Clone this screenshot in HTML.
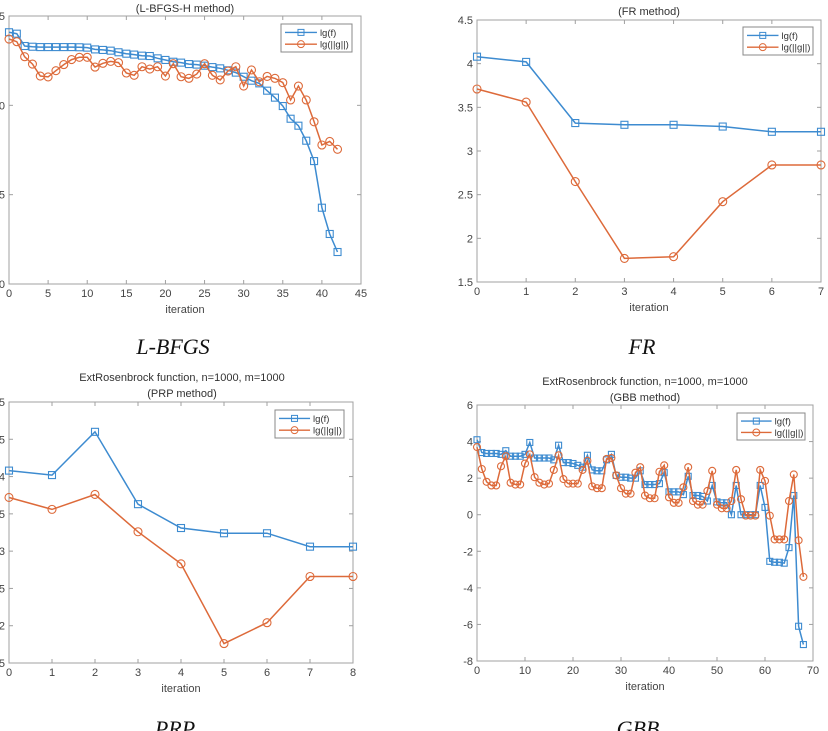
<!DOCTYPE html>
<html><head><meta charset="utf-8"><style>
html,body{margin:0;padding:0;background:#fff;overflow:hidden}
svg{display:block}
text{font-family:"Liberation Sans",sans-serif}
.cap{font-family:"Liberation Serif",serif;font-style:italic;font-size:22px;fill:#111}
</style></head><body>
<svg id="fig" width="828" height="731" viewBox="0 0 828 731" xmlns="http://www.w3.org/2000/svg">
<text class="cap" x="173" y="354" text-anchor="middle">L-BFGS</text>
<text class="cap" x="642" y="354" text-anchor="middle">FR</text>
<text class="cap" x="175" y="736" text-anchor="middle">PRP</text>
<text class="cap" x="638" y="736" text-anchor="middle">GBB</text>
</svg>
<script>
// ---- data ----
const lbfgsF = [4.409,4.401,4.332,4.328,4.326,4.326,4.326,4.326,4.326,4.325,4.323,4.313,4.310,4.306,4.297,4.289,4.284,4.278,4.276,4.263,4.254,4.244,4.239,4.231,4.228,4.222,4.214,4.207,4.196,4.183,4.160,4.138,4.123,4.082,4.043,3.996,3.925,3.886,3.802,3.688,3.427,3.280,3.179];
const lbfgsG = [4.371,4.356,4.272,4.231,4.164,4.159,4.194,4.228,4.256,4.269,4.269,4.214,4.235,4.246,4.239,4.181,4.168,4.216,4.203,4.216,4.164,4.233,4.160,4.151,4.175,4.233,4.168,4.142,4.192,4.216,4.108,4.198,4.132,4.162,4.151,4.127,4.030,4.108,4.030,3.908,3.778,3.798,3.754];
const lbfgsYTicks = ["3.0","3.5","4.0","4.5"];
const lbfgsXTicks = [0,5,10,15,20,25,30,35,40,45];
const frF = [4.08,4.02,3.32,3.30,3.30,3.28,3.22,3.22];
const frG = [3.71,3.56,2.65,1.77,1.79,2.42,2.84,2.84];
const frYTicks = ["1.5","2","2.5","3","3.5","4","4.5"];
const frXTicks = [0,1,2,3,4,5,6,7];
const prpF = [4.08,4.02,4.60,3.63,3.31,3.24,3.24,3.06,3.06];
const prpG = [3.72,3.56,3.76,3.26,2.83,1.76,2.04,2.66,2.66];
const prpYTicks = ["1.5","2","2.5","3","3.5","4","4.5","5"];
const prpXTicks = [0,1,2,3,4,5,6,7,8];
const gbbF = [4.1,3.4,3.35,3.35,3.35,3.3,3.5,3.2,3.2,3.2,3.3,3.95,3.1,3.1,3.1,3.1,3.0,3.8,2.85,2.85,2.8,2.7,2.6,3.25,2.45,2.4,2.4,3.0,3.3,2.15,2.05,2.05,2.0,2.0,2.4,1.65,1.65,1.65,1.7,2.3,1.25,1.25,1.25,1.1,2.1,1.05,1.05,1.0,0.75,1.6,0.7,0.65,0.65,0.0,1.6,0.0,0.0,0.0,0.0,1.6,0.4,-2.55,-2.6,-2.6,-2.65,-1.8,1.05,-6.1,-7.1];
const gbbG = [3.7,2.5,1.8,1.6,1.6,2.65,3.2,1.75,1.65,1.65,2.8,3.3,2.05,1.75,1.65,1.7,2.45,3.25,1.95,1.7,1.7,1.7,2.45,2.95,1.55,1.45,1.45,3.05,3.1,2.15,1.45,1.15,1.15,2.3,2.6,1.05,0.9,0.9,2.35,2.7,0.95,0.65,0.65,1.5,2.6,0.75,0.55,0.55,1.3,2.4,0.55,0.35,0.35,0.75,2.45,0.85,-0.05,-0.05,-0.05,2.45,1.85,-0.05,-1.35,-1.35,-1.35,0.75,2.2,-1.4,-3.4];
const gbbYTicks = ["-8","-6","-4","-2","0","2","4","6"];
const gbbXTicks = [0,10,20,30,40,50,60,70];

const NS="http://www.w3.org/2000/svg";
const svg=document.getElementById('fig');
const BLUE="#3d8bd0", ORANGE="#dd6a3a";
function mk(tag,attrs,parent){const e=document.createElementNS(NS,tag);for(const k in attrs)e.setAttribute(k,attrs[k]);(parent||svg).appendChild(e);return e;}

function chart(o){
  const g=mk('g',{});
  
  
  const x=v=>o.x0+(v-o.xmin)/(o.xmax-o.xmin)*(o.x1-o.x0);
  const y=v=>o.y1-(v-o.ymin)/(o.ymax-o.ymin)*(o.y1-o.y0);
  const box=mk('rect',{x:o.x0,y:o.y0,width:o.x1-o.x0,height:o.y1-o.y0,fill:'#fff',stroke:'#a0a0a0','stroke-width':1},g);
  
  
  o.xt.forEach(t=>{const px=x(t);
    mk('line',{x1:px,x2:px,y1:o.y1,y2:o.y1-4,stroke:'#a0a0a0'},g);
    mk('line',{x1:px,x2:px,y1:o.y0,y2:o.y0+4,stroke:'#a0a0a0'},g);
    const tx=mk('text',{x:px,y:o.y1+13,'text-anchor':'middle','font-size':11,fill:'#444'},g);tx.textContent=t;
    
    
  });
  o.yt.forEach(t=>{const py=y(parseFloat(t));
    mk('line',{x1:o.x0,x2:o.x0+4,y1:py,y2:py,stroke:'#a0a0a0'},g);
    mk('line',{x1:o.x1,x2:o.x1-4,y1:py,y2:py,stroke:'#a0a0a0'},g);
    const tx=mk('text',{x:o.x0-4,y:py+4,'text-anchor':'end','font-size':11,fill:'#444'},g);tx.textContent=t;
    
    
  });
  const xl=mk('text',{x:(o.x0+o.x1)/2,y:o.y1+29,'text-anchor':'middle','font-size':11,fill:'#444'},g);xl.textContent='iteration';
  
  
  o.titles.forEach((t,i)=>{const tt=mk('text',{x:o.tx,y:o.ty+i*16,'text-anchor':'middle','font-size':11,fill:'#333'},g);tt.textContent=t;
    
    });
  const ms=o.ms||3.5;
  [[o.f,BLUE,'sq','series-lg-f'],[o.g,ORANGE,'ci','series-lg-g']].forEach(([d,c,m,nm])=>{
    const pts=d.map((v,i)=>x(i).toFixed(1)+','+y(v).toFixed(1)).join(' ');
    const s=mk('polyline',{points:pts,fill:'none',stroke:c,'stroke-width':1.5},g);
    
    
    d.forEach((v,i)=>{
      const p= m==='sq'? mk('rect',{x:x(i)-ms,y:y(v)-ms,width:2*ms,height:2*ms,fill:'none',stroke:c,'stroke-width':1.1},g)
                       : mk('circle',{cx:x(i),cy:y(v),r:ms+0.5,fill:'none',stroke:c,'stroke-width':1.1},g);
      
      
    });
  });
  const L=o.leg;
  const lg=mk('g',{},g);
  
  
  mk('rect',{x:L[0],y:L[1],width:L[2],height:L[3],fill:'#fff',stroke:'#888'},lg);
  [[BLUE,'sq','lg(f)'],[ORANGE,'ci','lg(||g||)']].forEach(([c,m,t],i)=>{
    const cy=L[1]+L[3]*(0.3+i*0.42);
    const lx=L[0]+4, lw=L[2]*0.45;
    mk('line',{x1:lx,x2:lx+lw,y1:cy,y2:cy,stroke:c,'stroke-width':1.4},lg);
    if(m==='sq')mk('rect',{x:lx+lw/2-3,y:cy-3,width:6,height:6,fill:'none',stroke:c},lg);
    else mk('circle',{cx:lx+lw/2,cy:cy,r:3.5,fill:'none',stroke:c},lg);
    const tt=mk('text',{x:lx+lw+3,y:cy+3.5,'font-size':9.5,fill:'#333'},lg);tt.textContent=t;
    
    
  });
}
chart({name:'lbfgs-chart',x0:9,x1:361,y0:16,y1:284,xmin:0,xmax:45,ymin:3,ymax:4.5,xt:lbfgsXTicks,yt:lbfgsYTicks,f:lbfgsF,g:lbfgsG,titles:['(L-BFGS-H method)'],tx:185,ty:12,leg:[281,24,71,28]});
chart({name:'fr-chart',x0:477,x1:821,y0:20,y1:282,xmin:0,xmax:7,ymin:1.5,ymax:4.5,xt:frXTicks,yt:frYTicks,f:frF,g:frG,titles:['(FR method)'],tx:649,ty:15,leg:[743,27,70,28]});
chart({name:'prp-chart',x0:9,x1:353,y0:402,y1:663,xmin:0,xmax:8,ymin:1.5,ymax:5,xt:prpXTicks,yt:prpYTicks,f:prpF,g:prpG,titles:['ExtRosenbrock function, n=1000, m=1000','(PRP method)'],tx:182,ty:381,leg:[275,410,69,28]});
chart({name:'gbb-chart',x0:477,x1:813,y0:405,y1:661,xmin:0,xmax:70,ymin:-8,ymax:6,xt:gbbXTicks,yt:gbbYTicks,f:gbbF,g:gbbG,titles:['ExtRosenbrock function, n=1000, m=1000','(GBB method)'],tx:645,ty:385,leg:[737,413,68,27],ms:3});
</script>
</body></html>
